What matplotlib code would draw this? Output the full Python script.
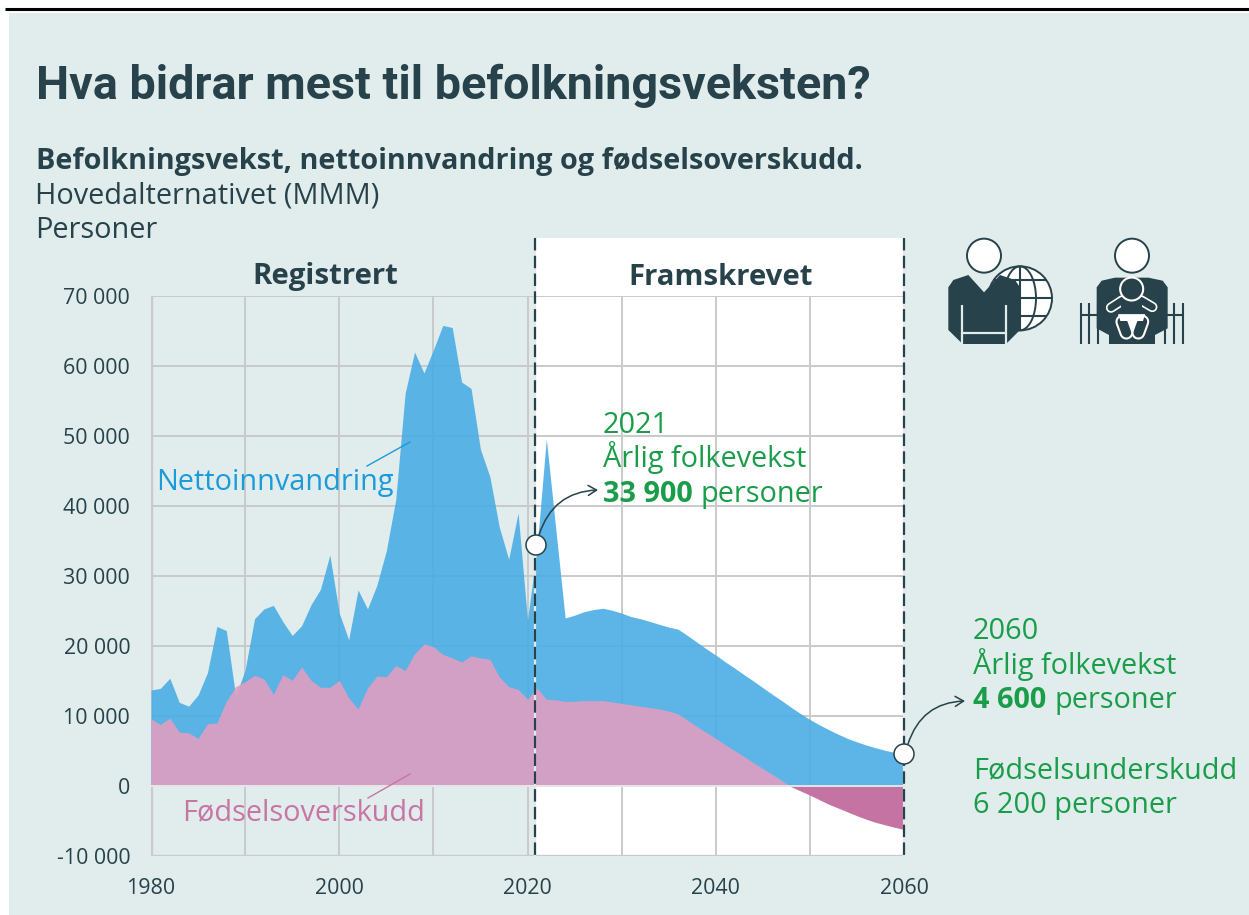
import numpy as np
import matplotlib
matplotlib.use('Agg')
import matplotlib.pyplot as plt
from matplotlib.patches import Circle, Polygon, Rectangle, FancyArrowPatch, Ellipse

# values in thousands of persons, one per year
years = list(range(1980, 2061))
total = [13.7, 13.95, 15.4, 11.95, 11.4, 13.0, 16.2, 22.8, 22.2, 12.8,
         16.6, 23.9, 25.3, 25.8, 23.5, 21.5, 22.9, 25.9, 28.1, 33.0,
         24.7, 20.9, 28.0, 25.3, 28.7, 33.6, 40.9, 56.1, 62.0, 59.0,
         62.3, 65.8, 65.5, 57.7, 56.8, 48.1, 44.2, 37.0, 32.4, 39.0,
         23.7, 33.9, 49.6, 36.8, 24.0, 24.4, 24.9, 25.2, 25.4, 25.1,
         24.7, 24.2, 23.9, 23.5, 23.1, 22.7, 22.4, 21.5, 20.55, 19.6,
         18.7, 17.75, 16.85, 15.9, 15.0, 14.05, 13.1, 12.2, 11.25, 10.35,
         9.5, 8.75, 8.05, 7.4, 6.8, 6.3, 5.85, 5.45, 5.1, 4.8, 4.6]
births = [9.6, 8.8, 9.7, 7.7, 7.6, 6.8, 8.9, 9.0, 12.1, 14.2,
          14.9, 15.8, 15.3, 13.1, 15.9, 15.1, 17.0, 15.1, 14.1, 14.1,
          15.1, 12.6, 11.0, 14.0, 15.7, 15.6, 17.2, 16.5, 18.9, 20.3,
          19.9, 18.8, 18.3, 17.7, 18.6, 18.3, 18.1, 15.6, 14.2, 13.8,
          12.4, 14.0, 12.4, 12.3, 12.1, 12.1, 12.2, 12.2, 12.2, 12.0,
          11.8, 11.6, 11.4, 11.2, 11.0, 10.7, 10.3, 9.4, 8.5, 7.65,
          6.8, 5.9, 5.05, 4.2, 3.35, 2.5, 1.65, 0.8, -0.1, -0.7,
          -1.3, -1.95, -2.6, -3.15, -3.7, -4.25, -4.75, -5.2, -5.55, -5.9, -6.2]
y_ticks = [-10, 0, 10, 20, 30, 40, 50, 60, 70]
y_labels = ['-10 000', '0', '10 000', '20 000', '30 000', '40 000', '50 000', '60 000', '70 000']
x_ticks = [1980, 2000, 2020, 2040, 2060]
x_grid = [1990, 2000, 2010, 2020, 2030, 2040, 2050, 2060]

DARK = '#27424a'
GREEN = '#1a9d49'
BLUE = '#1a9bdc'
PINK = '#c875a6'
BG = '#e1ecec'
GRID = '#cacaca'
W, H = 1249, 915

plt.rcParams['font.family'] = ['Open Sans', 'DejaVu Sans']
fig = plt.figure(figsize=(W / 100, H / 100), dpi=100, facecolor='white')

# pixel-coordinate layers for the panel, texts and icons
back = fig.add_axes([0, 0, 1, 1], zorder=0)
back.set_xlim(0, W)
back.set_ylim(H, 0)
back.axis('off')
back.add_patch(Rectangle((9, 13), W - 9, H - 13, fc=BG, ec='none'))
back.add_patch(Rectangle((535, 238), 369, 618, fc='white', ec='none'))
back.plot([5, W], [9.2, 9.2], color='black', lw=2.2, solid_capstyle='butt')

ax = fig.add_axes([151 / W, (H - 856) / H, 753 / W, 560 / H], zorder=1)
ax.patch.set_alpha(0)
ax.set_xlim(1980, 2060)
ax.set_ylim(-10, 70)
for s in ax.spines.values():
    s.set_visible(False)
for v in y_ticks:
    ax.axhline(v, color=GRID, lw=1.4, zorder=1)
ax.axvline(1980, color=GRID, lw=2.4, zorder=1)
for v in x_grid:
    ax.axvline(v, color=GRID, lw=1.4, zorder=1)
ax.axhline(-10, color=GRID, lw=2.4, zorder=1)

yrs = np.array(years)
tot = np.array(total)
bir = np.array(births)
ax.fill_between(yrs, 0, tot, color='#4aade4', alpha=0.9, lw=0, zorder=2)
ax.fill_between(yrs, 0, bir, where=bir >= 0, interpolate=True, color='#dc9fc3', alpha=0.93, lw=0, zorder=3)
ax.fill_between(yrs, 0, bir, where=bir <= 0, interpolate=True, color='#c473a3', lw=0, zorder=3)
ax.axhline(0, color='#f0f0f0', lw=1.2, zorder=4)

ax.set_yticks(y_ticks, y_labels)
ax.set_xticks(x_ticks, [str(v) for v in x_ticks])
ax.tick_params(length=0, labelsize=15.4, labelcolor=DARK)
ax.tick_params(axis='x', pad=16)
ax.tick_params(axis='y', pad=15)

# top layer
top = fig.add_axes([0, 0, 1, 1], zorder=2)
top.set_xlim(0, W)
top.set_ylim(H, 0)
top.axis('off')
top.patch.set_alpha(0)


def t(x, y, s, size, color=DARK, weight='normal', **kw):
    return top.text(x, y, s, fontsize=size, color=color, fontweight=weight, va='baseline', **kw)


t(36, 99, 'Hva bidrar mest til befolkningsveksten?', 33.7, weight='bold', family=['Roboto'])
t(36, 169, 'Befolkningsvekst, nettoinnvandring og fødselsoverskudd.', 20.8, weight='bold')
t(35.5, 204, 'Hovedalternativet (MMM)', 20.75)
t(35.5, 238, 'Personer', 20.75)
t(325, 284, 'Registrert', 21.2, weight='bold', ha='center')
t(720.5, 285, 'Framskrevet', 21.2, weight='bold', ha='center')

t(156, 490, 'Nettoinnvandring', 20.75, color=BLUE)
t(182.5, 820, 'Fødselsoverskudd', 20.75, color=PINK)
top.plot([367, 410], [466, 442], color=BLUE, lw=1)
top.plot([368, 410], [798, 774], color=PINK, lw=1)

t(603, 433, '2021', 20.8, color=GREEN)
t(603, 467, 'Årlig folkevekst', 20.8, color=GREEN)
t(603, 502, '33 900', 20.8, color=GREEN, weight='bold')
t(701, 502, 'personer', 20.8, color=GREEN)
t(973, 639, '2060', 20.8, color=GREEN)
t(973, 674, 'Årlig folkevekst', 20.8, color=GREEN)
t(973, 708, '4 600', 20.8, color=GREEN, weight='bold')
t(1055, 708, 'personer', 20.8, color=GREEN)
t(973, 778, 'Fødselsunderskudd', 20.8, color=GREEN)
t(973, 813, '6 200 personer', 20.8, color=GREEN)

# divider lines
for x in (535, 904):
    top.plot([x, x], [238, 856], color='#e6e6e6', lw=1.6, zorder=3)
    top.plot([x, x], [238, 856], color=DARK, lw=1.6, dashes=(5.6, 2.4), zorder=3)

# markers and arrows
for cx, cy in ((536, 545), (904, 754)):
    top.add_patch(Circle((cx, cy), 10, fc='white', ec=DARK, lw=1.1, zorder=5))
for a, b in (((539, 535), (598, 490)), ((908, 744), (965, 701))):
    top.add_patch(FancyArrowPatch(a, b, connectionstyle='arc3,rad=-0.35', arrowstyle='->,head_length=6,head_width=3.6',
                                  color=DARK, lw=1.1, zorder=4, shrinkA=0, shrinkB=0))


# icons, drawn in zoomed-crop units
def ix(x):
    return 930 + x / 3


def iy(y):
    return 230 + y / 3


def poly(points, **kw):
    top.add_patch(Polygon([(ix(x), iy(y)) for x, y in points], closed=True, **kw))


def line(xs, ys, color=DARK, lw=1.5, z=6):
    top.plot([ix(x) for x in xs], [iy(y) for y in ys], color=color, lw=lw, solid_capstyle='butt', zorder=z)


# globe
gc = (ix(270), iy(205))
top.add_patch(Circle(gc, 32, fc='white', ec=DARK, lw=1.4, zorder=5))
top.add_patch(Ellipse(gc, 32, 64, fc='none', ec=DARK, lw=1.4, zorder=5))
line([270, 270], [110, 300], z=5)
for yy, half in ((150, 80), (205, 97), (258, 80)):
    line([270 - half, 270 + half], [yy, yy], z=5)

# adult with globe
top.add_patch(Circle((ix(162), iy(77)), 17, fc='white', ec=DARK, lw=1.4, zorder=6))
poly([(55, 172), (70, 150), (115, 135), (162, 187), (210, 135), (255, 150), (270, 172),
      (270, 300), (228, 342), (98, 342), (55, 300)], fc=DARK, ec='none', zorder=6)
line([95, 95], [225, 342], color=BG, lw=1.6, z=7)
line([229, 229], [225, 342], color=BG, lw=1.6, z=7)
line([95, 229], [308, 308], color=BG, lw=1.6, z=7)

# adult with baby
top.add_patch(Circle((ix(606), iy(77)), 17, fc='white', ec=DARK, lw=1.4, zorder=6))
for x in (452, 478, 505, 705, 733, 760):
    line([x, x], [220, 342], lw=1.5)
line([452, 505], [255, 255])
line([705, 760], [255, 255])
poly([(500, 172), (515, 152), (555, 143), (655, 143), (698, 152), (713, 172), (713, 295),
      (675, 315), (675, 342), (537, 342), (537, 315), (500, 295)], fc=DARK, ec='none', zorder=7)


# baby, in units of a second crop
def bx(x):
    return 1085 + x / 3


def by(y):
    return 265 + y / 3


def limb(xs, ys, outer, inner):
    px = [bx(x) for x in xs]
    py = [by(y) for y in ys]
    top.plot(px, py, color='white', lw=outer, solid_capstyle='round', zorder=8)
    top.plot(px, py, color=DARK, lw=inner, solid_capstyle='round', zorder=9)


limb([112, 78], [106, 128], 7.4, 5.0)
limb([168, 202], [106, 126], 7.4, 5.0)
top.add_patch(Polygon([(bx(x), by(y)) for x, y in [(100, 148), (180, 148), (184, 172), (160, 205), (122, 205), (98, 172)]],
                      closed=True, fc='white', ec='none', zorder=9))
limb([112, 124], [170, 203], 10, 7)
limb([172, 160], [170, 203], 10, 7)
top.add_patch(Polygon([(bx(x), by(y)) for x, y in [(108, 98), (172, 98), (172, 148), (108, 148)]],
                      closed=True, fc=DARK, ec='none', zorder=10))
top.add_patch(Polygon([(bx(x), by(y)) for x, y in [(100, 148), (180, 148), (174, 168), (106, 168)]],
                      closed=True, fc='white', ec='none', zorder=10))
top.add_patch(Circle((bx(140), by(72)), 11.5, fc=DARK, ec='white', lw=1.5, zorder=11))

fig.savefig('out.png', dpi=100)
